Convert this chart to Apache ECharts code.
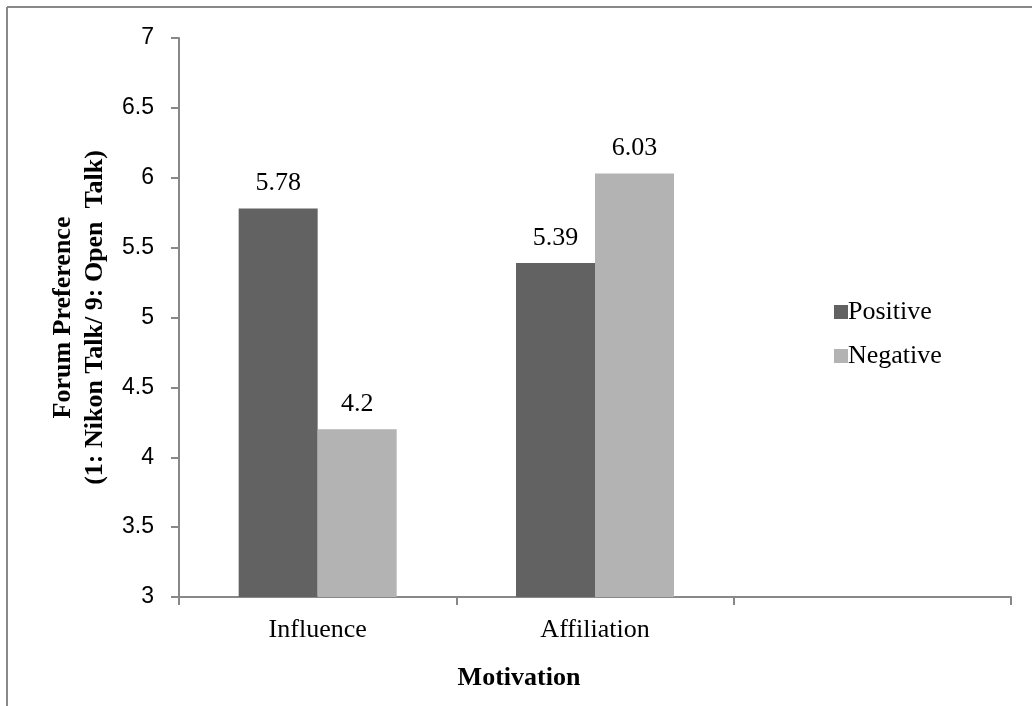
<!DOCTYPE html>
<html>
<head>
<meta charset="utf-8">
<script src="https://cdn.jsdelivr.net/npm/echarts@6/dist/echarts.min.js"></script>
<style>html,body{margin:0;padding:0;background:#fff}#c{width:1032px;height:706px}</style>
</head>
<body>
<div id="c"></div>
<script>
var categories = ['Influence', 'Affiliation', ''];
var positive = [5.78, 5.39, null];
var negative = [4.2, 6.03, null];
var yTicks = ['3', '3.5', '4', '4.5', '5', '5.5', '6', '6.5', '7'];
var xTitle = 'Motivation';
var yTitle = 'Forum Preference\n(1: Nikon Talk/ 9: Open  Talk)';

var chart = echarts.init(document.getElementById('c'));
var serif = '"Liberation Serif", "Times New Roman", serif';
var axisColor = '#888888';
chart.setOption({
  animation: false,
  backgroundColor: '#ffffff',
  grid: { left: 179, right: 21, top: 38, bottom: 109, containLabel: false },
  legend: {
    orient: 'vertical', left: 829, top: 294, itemGap: 18,
    itemWidth: 14, itemHeight: 14, icon: 'rect',
    textStyle: { fontFamily: serif, fontSize: 26, color: '#000', padding: [0, 0, 0, -5] },
    data: ['Positive', 'Negative']
  },
  xAxis: {
    type: 'category', data: categories,
    axisLine: { lineStyle: { color: axisColor, width: 2 } },
    axisTick: { show: true, length: 8, alignWithLabel: false, lineStyle: { color: axisColor, width: 2 } },
    axisLabel: { fontFamily: serif, fontSize: 26, color: '#000', margin: 20 }
  },
  yAxis: {
    type: 'value', min: 3, max: 7, interval: 0.5,
    name: yTitle,
    nameLocation: 'middle', nameGap: 63, nameRotate: 90,
    nameTextStyle: { fontFamily: serif, fontSize: 26, fontWeight: 'bold', color: '#000', lineHeight: 32 },
    axisLine: { show: true, lineStyle: { color: axisColor, width: 2 } },
    axisTick: { show: true, length: 8, lineStyle: { color: axisColor, width: 2 } },
    splitLine: { show: false },
    axisLabel: {
      fontFamily: '"Liberation Sans", Arial, sans-serif', fontSize: 23, color: '#000', margin: 25,
      formatter: function (v) { var i = Math.round((v - 3) / 0.5); return yTicks[i]; }
    }
  },
  series: [
    {
      name: 'Positive', type: 'bar', data: positive, barWidth: 79, barGap: '0%',
      itemStyle: { color: '#626262' },
      label: { show: true, position: 'top', distance: 12, fontFamily: serif, fontSize: 26, color: '#000' }
    },
    {
      name: 'Negative', type: 'bar', data: negative, barWidth: 79, barGap: '0%',
      itemStyle: { color: '#b3b3b3' },
      label: { show: true, position: 'top', distance: 12, fontFamily: serif, fontSize: 26, color: '#000' }
    }
  ],
  graphic: [
    { type: 'line', shape: { x1: 7, y1: 7, x2: 1032, y2: 7 }, style: { stroke: '#888', lineWidth: 2 } },
    { type: 'line', shape: { x1: 7, y1: 7, x2: 7, y2: 706 }, style: { stroke: '#888', lineWidth: 2 } },
    { type: 'text', x: 519, y: 678, style: { text: xTitle, font: 'bold 26px ' + serif, fill: '#000', textAlign: 'center', textVerticalAlign: 'middle' } }
  ]
});
</script>
</body>
</html>
